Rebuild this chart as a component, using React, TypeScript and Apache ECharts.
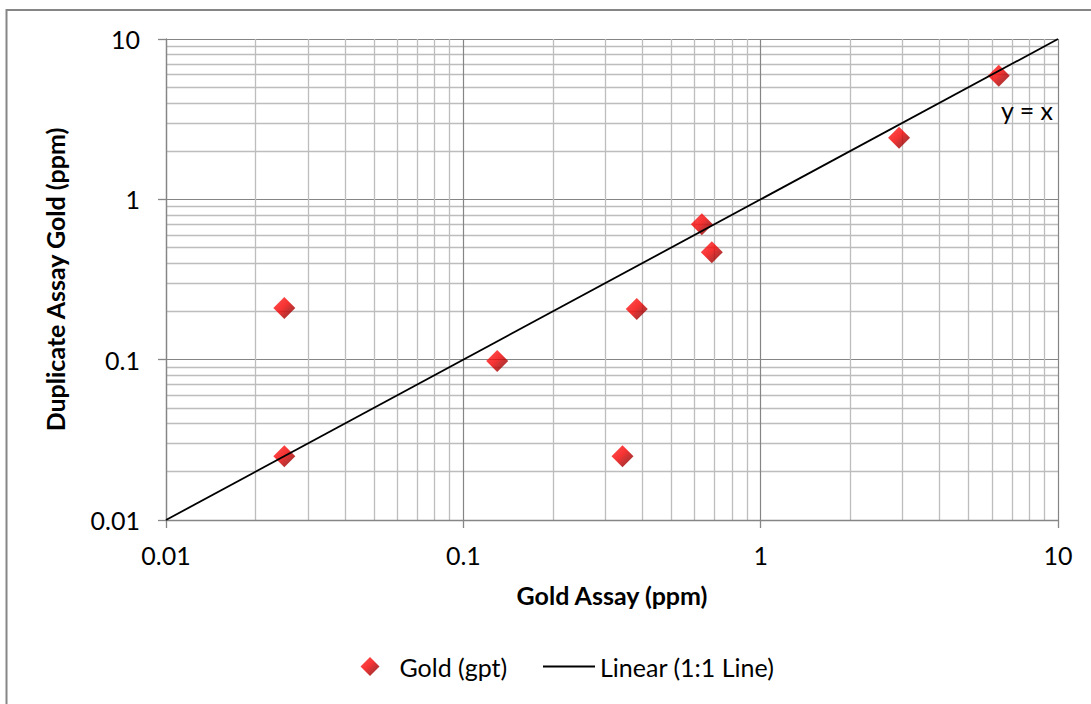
import React, { useEffect, useRef } from "react";
import * as echarts from "echarts";

const goldAssay = [0.025, 0.025, 0.13, 0.343, 0.383, 0.634, 0.685, 2.92, 6.32];
const duplicateAssay = [0.21, 0.025, 0.098, 0.025, 0.207, 0.70, 0.468, 2.42, 5.89];
const lineX = [0.01, 10];
const lineY = [0.01, 10];
const xTitle = "Gold Assay (ppm)";
const yTitle = "Duplicate Assay Gold (ppm)";
const scatterName = "Gold (gpt)";
const lineName = "Linear (1:1 Line)";
const lineLabel = "y = x";

const FONT = "Lato";
const FS = 25;

export default function App() {
  const ref = useRef<HTMLDivElement>(null);
  useEffect(() => {
    if (!ref.current) return;
    const chart = echarts.init(ref.current, undefined, { renderer: "svg" });
    const fmt = (v: number) => String(+Number(v).toPrecision(3));
    const axisCommon = {
      type: "log" as const,
      logBase: 10,
      min: 0.01,
      max: 10,
      axisLine: { show: true, lineStyle: { color: "#868686", width: 1.3 } },
      axisTick: { show: true, inside: false, length: 8, lineStyle: { color: "#868686", width: 1.3 } },
      splitLine: { show: true, lineStyle: { color: "#858585", width: 1.2 } },
      minorTick: { show: false, splitNumber: 9 },
      minorSplitLine: { show: true, lineStyle: { color: "#bdbdbd", width: 1.3 } },
      nameLocation: "middle" as const,
      nameTextStyle: { fontFamily: FONT, fontSize: FS, fontWeight: "bold" as const, color: "#000" },
    };
    chart.setOption({
      animation: false,
      backgroundColor: "#fff",
      grid: { left: 166, right: 33, top: 39, bottom: 184 },
      xAxis: {
        ...axisCommon,
        name: xTitle,
        nameGap: 62,
        axisLabel: { margin: 22, fontFamily: FONT, fontSize: FS, color: "#000", formatter: fmt },
      },
      yAxis: {
        ...axisCommon,
        name: yTitle,
        nameGap: 99,
        axisLabel: { margin: 26, fontFamily: FONT, fontSize: FS, color: "#000", formatter: fmt },
      },
      legend: [
        {
          data: [{ name: scatterName, icon: "diamond" }],
          left: 355.5,
          top: 649,
          itemWidth: 19,
          itemHeight: 19,
          textStyle: { fontFamily: FONT, fontSize: FS, color: "#000", padding: [0, 0, 0, 15] },
          selectedMode: false,
        },
        {
          data: [{ name: lineName, icon: "rect" }],
          left: 538,
          top: 649,
          itemWidth: 52,
          itemHeight: 2,
          itemStyle: { color: "#000" },
          textStyle: { fontFamily: FONT, fontSize: FS, color: "#000" },
          selectedMode: false,
        },
      ],
      graphic: [
        {
          type: "rect",
          shape: { x: 6.5, y: 10, width: 1300, height: 900 },
          style: { fill: "none", stroke: "#868686", lineWidth: 2 },
          silent: true,
        },
        {
          type: "text",
          x: 1001,
          y: 110,
          style: {
            text: lineLabel,
            font: `${FS}px ${FONT}`,
            fill: "#000",
            verticalAlign: "middle",
          },
          z: 100,
        },
      ],
      series: [
        {
          name: scatterName,
          type: "scatter",
          symbol: "diamond",
          symbolSize: 22,
          itemStyle: {
            color: new echarts.graphic.LinearGradient(0, 0, 1, 1, [
              { offset: 0, color: "#ff2a2a" },
              { offset: 0.45, color: "#f50000" },
              { offset: 0.6, color: "#c80000" },
              { offset: 1, color: "#6a0000" },
            ]),
          },
          data: goldAssay.map((x, i) => [x, duplicateAssay[i]]),
          z: 2,
        },
        {
          name: lineName,
          type: "line",
          symbol: "none",
          lineStyle: { color: "#000", width: 1.8 },
          itemStyle: { color: "#000" },
          data: lineX.map((x, i) => [x, lineY[i]]),
          z: 3,
        },
      ],
    });
    return () => chart.dispose();
  }, []);
  return (
    <div
      ref={ref}
      style={{ position: "fixed", left: 0, top: 0, width: 1091, height: 704, background: "#fff" }}
    />
  );
}
